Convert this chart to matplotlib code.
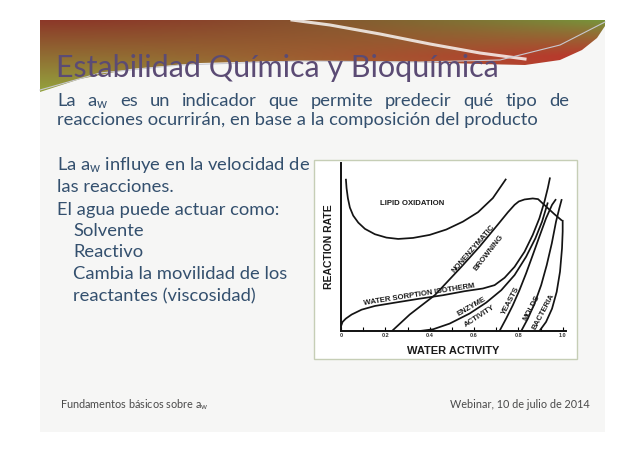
"""Slide: Estabilidad Química y Bioquímica -- water activity stability map."""
import matplotlib
matplotlib.use("Agg")
import matplotlib.pyplot as plt
import numpy as np
from matplotlib.patches import Rectangle, Polygon

plt.rcParams["font.family"] = ["Lato", "DejaVu Sans"]
plt.rcParams["mathtext.fontset"] = "custom"
plt.rcParams["mathtext.rm"] = "Lato"
plt.rcParams["mathtext.it"] = "Lato:italic"

# --- curves (x = water activity, y = relative rate) ---
LIPID_X = [0.022, 0.025, 0.031, 0.040, 0.055, 0.078, 0.108, 0.153, 0.205, 0.258,
           0.325, 0.400, 0.475, 0.550, 0.618, 0.685, 0.745]
LIPID_Y = [0.906, 0.851, 0.791, 0.735, 0.687, 0.645, 0.608, 0.576, 0.556, 0.548,
           0.554, 0.572, 0.604, 0.651, 0.707, 0.791, 0.906]

ISO_X = [0.000, 0.007, 0.022, 0.048, 0.093, 0.153, 0.235, 0.348, 0.460, 0.558,
         0.640, 0.693, 0.738, 0.783, 0.828, 0.865, 0.895, 0.918, 0.933, 0.943]
ISO_Y = [0.028, 0.054, 0.074, 0.098, 0.127, 0.149, 0.167, 0.191, 0.213, 0.237,
         0.253, 0.273, 0.317, 0.382, 0.472, 0.572, 0.671, 0.771, 0.851, 0.914]

BROWN_X = [0.230, 0.310, 0.423, 0.543, 0.625, 0.706, 0.753, 0.783, 0.802, 0.828,
           0.865, 0.889, 0.925, 0.963, 0.997]
BROWN_Y = [0.000, 0.098, 0.213, 0.382, 0.502, 0.631, 0.707, 0.751, 0.771, 0.783,
           0.789, 0.785, 0.741, 0.695, 0.657]

ENZ_X = [0.355, 0.415, 0.490, 0.580, 0.655, 0.723, 0.783, 0.835, 0.877, 0.907, 0.933]
ENZ_Y = [0.000, 0.010, 0.044, 0.104, 0.169, 0.243, 0.333, 0.442, 0.552, 0.651, 0.765]

YEAST_X = [0.715, 0.745, 0.775, 0.805, 0.835, 0.865, 0.895, 0.925, 0.952, 0.970]
YEAST_Y = [0.000, 0.074, 0.153, 0.243, 0.343, 0.452, 0.562, 0.671, 0.751, 0.785]

MOLD_X = [0.813, 0.843, 0.873, 0.903, 0.928, 0.951, 0.970, 0.985, 0.996]
MOLD_Y = [0.000, 0.074, 0.163, 0.273, 0.392, 0.522, 0.651, 0.731, 0.785]

BACT_X = [0.895, 0.925, 0.952, 0.973, 0.988, 0.997, 1.000, 1.000]
BACT_Y = [0.000, 0.054, 0.133, 0.233, 0.353, 0.492, 0.592, 0.661]

CURVES = [(LIPID_X, LIPID_Y), (ISO_X, ISO_Y), (BROWN_X, BROWN_Y), (ENZ_X, ENZ_Y),
          (YEAST_X, YEAST_Y), (MOLD_X, MOLD_Y), (BACT_X, BACT_Y)]

# curve labels: text, x, y, rotation
LABELS = [
    ("LIPID OXIDATION", 0.321, 0.757, 0),
    ("WATER SORPTION ISOTHERM", 0.351, 0.215, 9),
    ("NONENZYMATIC", 0.598, 0.486, 49),
    ("BROWNING", 0.668, 0.466, 52),
    ("ENZYME", 0.591, 0.145, 30),
    ("ACTIVITY", 0.627, 0.086, 33),
    ("YEASTS", 0.768, 0.179, 62),
    ("MOLDS", 0.861, 0.137, 62),
    ("BACTERIA", 0.912, 0.114, 62),
]

XTICKS = [0, 0.2, 0.4, 0.6, 0.8, 1.0]
XTICK_LABELS = ["0", "0.2", "0.4", "0.6", "0.8", "1.0"]

TITLE = "Estabilidad Química y Bioquímica"
INTRO_1 = ["La", "a$_\\mathrm{w}$", "es", "un", "indicador", "que", "permite",
           "predecir", "qué", "tipo", "de"]
INTRO_2 = "reacciones ocurrirán, en base a la composición del producto"
BODY = [
    ("La a$_\\mathrm{w}$ influye en la velocidad de", 0),
    ("las reacciones.", 0),
    ("El agua puede actuar como:", 0),
    ("Solvente", 1),
    ("Reactivo", 1),
    ("Cambia la movilidad de los", 1),
    ("reactantes (viscosidad)", 1),
]
FOOT_LEFT = "Fundamentos básicos sobre a$_\\mathrm{w}$"
FOOT_RIGHT = "Webinar, 10 de julio de 2014"

W, H = 638, 451
TEXT_BLUE = "#34506e"
BODY_SIZE = 13.2

fig = plt.figure(figsize=(W / 100, H / 100), dpi=100)
fig.patch.set_facecolor("white")
bg = fig.add_axes([0, 0, 1, 1])
bg.set_xlim(0, W)
bg.set_ylim(H, 0)
bg.axis("off")

# slide background
bg.add_patch(Rectangle((40, 20), 565, 412, facecolor="#f6f6f5", edgecolor="none"))

# top swoosh band: colour gradient clipped to a wavy polygon
band = Polygon([(40, 20), (605, 20), (605, 26), (597, 38), (582, 50), (560, 60),
                (525, 65), (480, 64), (420, 62), (350, 61), (280, 61), (200, 63),
                (130, 69), (80, 79), (40, 92)], closed=True,
               facecolor="none", edgecolor="none")
bg.add_patch(band)
gy, gx = np.mgrid[0:1:60j, 0:1:200j]
tl, bl = np.array([0.55, 0.22, 0.16]), np.array([0.58, 0.64, 0.24])
tr, br = np.array([0.47, 0.58, 0.23]), np.array([0.74, 0.20, 0.17])
gy_r = np.clip(gy * 2.0, 0, 1)
gx_r = gx ** 1.6
grad = ((1 - gx_r)[..., None] * ((1 - gy)[..., None] * tl + gy[..., None] * bl)
        + gx_r[..., None] * ((1 - gy_r)[..., None] * tr + gy_r[..., None] * br))
img = bg.imshow(grad, extent=(40, 605, 92, 20), aspect="auto", zorder=1)
img.set_clip_path(band)
bg.plot([292, 330, 380, 430, 480, 525], [20, 25, 34, 44, 53, 59], color="white",
        lw=2.2, alpha=0.8, zorder=2)
bg.plot([40, 100, 180, 300, 420, 500, 560, 605], [90, 73, 65, 61, 62, 60, 45, 22],
        color="#c8c8d0", lw=0.8, zorder=2)

bg.text(56, 77, TITLE, fontsize=22, color="#5b4b74", va="baseline", zorder=3)

renderer = fig.canvas.get_renderer()


def justify(words, x0, x1, y, **kw):
    objs = [bg.text(0, y, w, va="baseline", **kw) for w in words]
    widths = [o.get_window_extent(renderer).width for o in objs]
    gap = (x1 - x0 - sum(widths)) / (len(words) - 1)
    x = x0
    for o, w in zip(objs, widths):
        o.set_x(x)
        x += w + gap


justify(INTRO_1, 57, 569, 106, fontsize=BODY_SIZE, color=TEXT_BLUE)
bg.text(57, 125, INTRO_2, fontsize=BODY_SIZE, color=TEXT_BLUE, va="baseline")

for (line, indent), yb in zip(BODY, [170, 192, 215, 236, 257, 279, 301]):
    bg.text(57 + 16 * indent, yb, line, fontsize=BODY_SIZE, color=TEXT_BLUE,
            va="baseline")

bg.text(60, 408, FOOT_LEFT, fontsize=7.8, color="#4a4a4a", va="baseline")
bg.text(590, 408, FOOT_RIGHT, fontsize=7.8, color="#4a4a4a", va="baseline", ha="right")

# chart panel
bg.add_patch(Rectangle((314, 160), 263, 199, facecolor="white", edgecolor="#c6ceb6",
                       lw=1.0, zorder=1))

x0, x1, y0, y1 = 341, 566, 163, 331
ax = fig.add_axes([x0 / W, 1 - y1 / H, (x1 - x0) / W, (y1 - y0) / H])
ax.patch.set_alpha(0)
for xs, ys in CURVES:
    ax.plot(xs, ys, color="#141414", lw=1.25, solid_capstyle="butt")

chart_font = dict(family=["Liberation Sans", "DejaVu Sans"], fontweight="bold",
                  color="#1a1a1a")
for txt, lx, ly, rot in LABELS:
    ax.text(lx, ly, txt, fontsize=5.6, rotation=rot, ha="center", va="center",
            rotation_mode="anchor", **chart_font)

ax.set_xlim(0, 1.015)
ax.set_ylim(0, 1.0)
for side in ("top", "right"):
    ax.spines[side].set_visible(False)
for side in ("left", "bottom"):
    ax.spines[side].set_linewidth(1.4)
    ax.spines[side].set_color("#111111")
ax.set_xticks(XTICKS)
ax.set_xticklabels(XTICK_LABELS, fontsize=4, fontweight="bold",
                   family=["Liberation Sans"], color="#333333")
ax.set_xticks(np.arange(0.1, 1.0, 0.2), minor=True)
ax.tick_params(axis="x", which="both", direction="in", length=3, width=0.8, pad=1.5)
ax.set_yticks([])
ax.set_xlabel("WATER ACTIVITY", fontsize=8, labelpad=6, **chart_font)
ax.set_ylabel("REACTION RATE", fontsize=7.5, labelpad=5, **chart_font)

fig.savefig("out.png", dpi=100)
